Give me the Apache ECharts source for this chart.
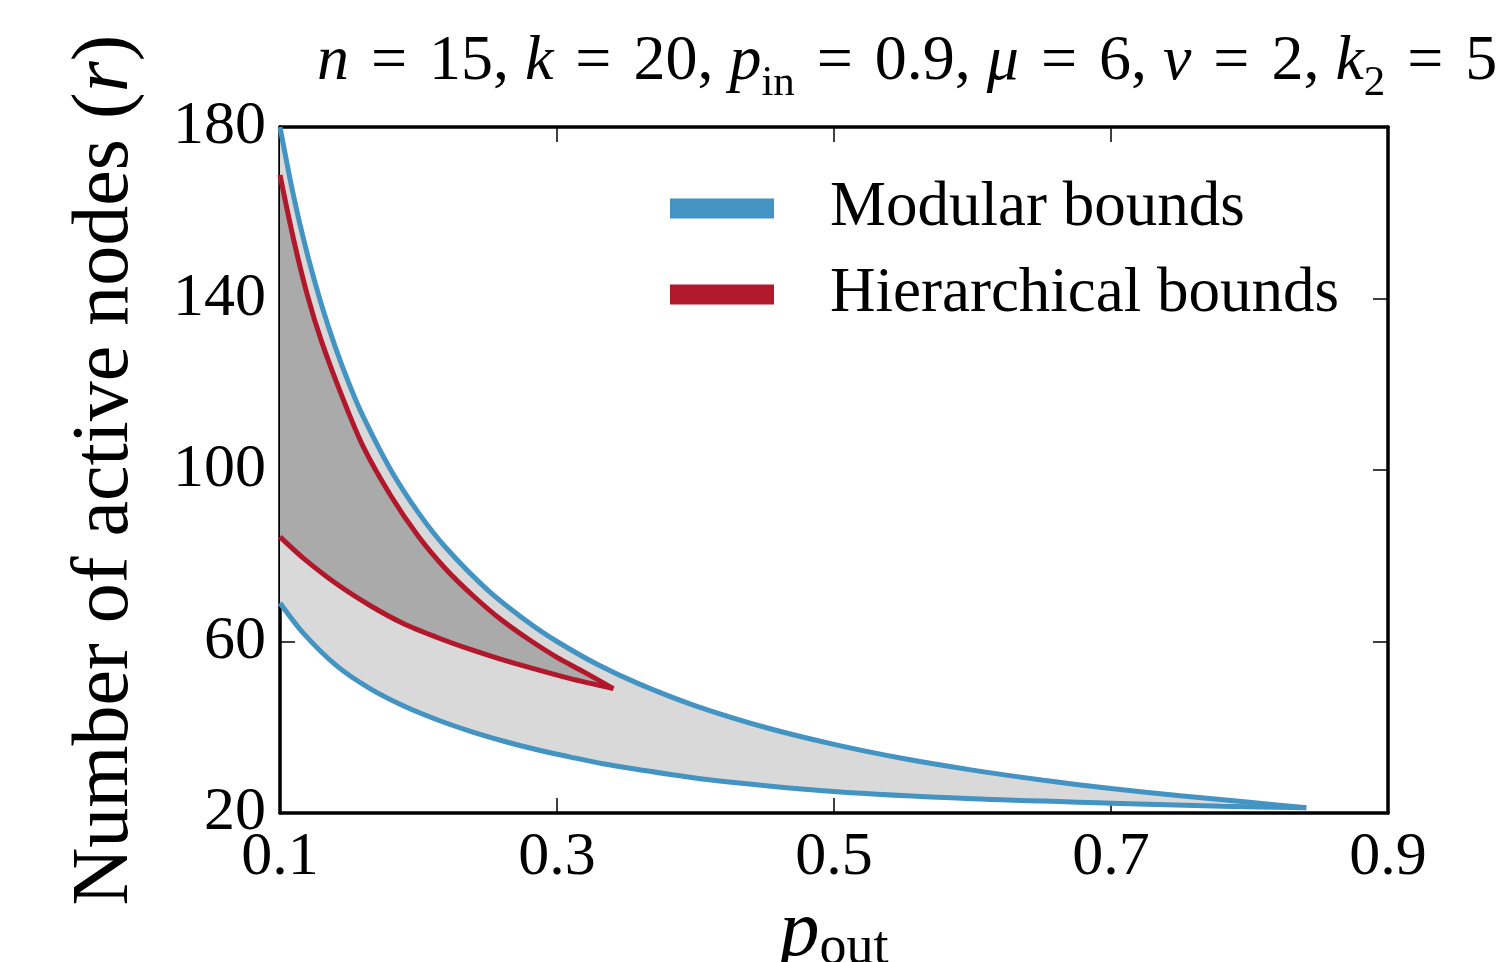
<!DOCTYPE html>
<html>
<head>
<meta charset="utf-8">
<script src="https://cdn.jsdelivr.net/npm/echarts@6/dist/echarts.min.js"></script>
<style>
  html, body { margin: 0; padding: 0; background: #fff; }
  #chart { width: 1505px; height: 962px; }
</style>
</head>
<body>
<div id="chart"></div>
<script>
// 读图估计的数据
var xTicks = [0.1, 0.3, 0.5, 0.7, 0.9];
var yTicks = [20, 60, 100, 140, 180];

// Modular bounds 上界 / 下界
var modUpperP = [0.1, 0.11, 0.12, 0.13, 0.14, 0.15, 0.16, 0.18, 0.2, 0.22, 0.25, 0.28, 0.3, 0.33, 0.36, 0.4, 0.45, 0.5, 0.55, 0.6, 0.65, 0.7, 0.75, 0.8, 0.841];
var modUpperR = [180, 163.6, 150, 138.5, 128.6, 120, 112.5, 100, 90, 81.8, 72, 64.3, 60, 54.5, 50, 45, 40, 36, 32.7, 30, 27.7, 25.7, 24, 22.5, 21.2];
var modLowerP = [0.1, 0.117, 0.141, 0.165, 0.189, 0.213, 0.237, 0.261, 0.285, 0.309, 0.333, 0.382, 0.414, 0.5, 0.6, 0.7, 0.78, 0.841];
var modLowerR = [69, 61.9, 54.3, 49.0, 45.0, 41.8, 39.1, 36.8, 34.8, 33.1, 31.5, 29.0, 27.6, 25.0, 23.3, 22.3, 21.6, 21.2];

// Hierarchical bounds 上界 / 下界
var hierUpperP = [0.1, 0.11, 0.12, 0.13, 0.145, 0.16, 0.18, 0.2, 0.22, 0.24, 0.26, 0.28, 0.3, 0.32, 0.3407];
var hierUpperR = [168.8, 153.5, 140.5, 130, 117, 105.5, 94, 84.5, 76.8, 70.5, 65, 60.4, 56.3, 52.8, 49];
var hierLowerP = [0.1, 0.117, 0.141, 0.165, 0.189, 0.213, 0.237, 0.261, 0.285, 0.309, 0.3407];
var hierLowerR = [84.4, 79.4, 73.4, 68.4, 64.2, 61.0, 58.2, 55.7, 53.5, 51.4, 49];

var FONT = 'Liberation Serif';
var BLUE = '#4393c3';
var RED = '#b2182b';

function zip(xs, ys) {
  return xs.map(function (x, i) { return [x, ys[i]]; });
}

// 两条曲线之间的填充区域
function bandSeries(upP, upR, loP, loR, color, z) {
  var pts = zip(upP, upR).concat(zip(loP, loR).reverse());
  return {
    type: 'custom',
    silent: true,
    clip: true,
    z: z,
    data: [[upP[0], upR[0]]],
    renderItem: function (params, api) {
      return {
        type: 'polygon',
        shape: { points: pts.map(function (p) { return api.coord(p); }) },
        style: { fill: color, stroke: null }
      };
    }
  };
}

function lineSeries(name, xs, ys, color) {
  return {
    name: name,
    type: 'line',
    data: zip(xs, ys),
    smooth: 0.3,
    showSymbol: false,
    symbol: 'none',
    z: 5,
    lineStyle: { color: color, width: 5 },
    itemStyle: { color: color },
    emphasis: { disabled: true }
  };
}

var tickStyle = { color: '#000', width: 1.5 };
var lineAxis = { show: true, lineStyle: { color: '#000', width: 3.5 } };

var eq = function (v) { return '{e|=}{r|' + v + '}'; };
var titleText = '{i|n}' + eq('15, ') + '{i|k}' + eq('20, ') + '{i|p}{s|in}' + eq('0.9, ') +
  '{i|μ}' + eq('6, ') + '{i|ν}' + eq('2, ') + '{i|k}{s|2}' + eq('5');

var chart = echarts.init(document.getElementById('chart'));
chart.setOption({
  animation: false,
  backgroundColor: '#fff',
  title: {
    left: 312,
    top: 25,
    text: titleText,
    textStyle: {
      fontWeight: 'normal',
      rich: {
        i: { fontFamily: FONT, fontStyle: 'italic', fontWeight: 'normal', fontSize: 64, lineHeight: 64, verticalAlign: 'top', color: '#000' },
        r: { fontFamily: FONT, fontWeight: 'normal', fontSize: 64, lineHeight: 64, verticalAlign: 'top', color: '#000' },
        e: { fontFamily: FONT, fontWeight: 'normal', fontSize: 64, lineHeight: 64, verticalAlign: 'top', color: '#000', width: 80, align: 'center' },
        s: { fontFamily: FONT, fontWeight: 'normal', fontSize: 43, lineHeight: 40, verticalAlign: 'top', padding: [32, 0, 0, 0], color: '#000' }
      }
    }
  },
  legend: {
    orient: 'vertical',
    left: 665,
    top: 172,
    icon: 'rect',
    itemWidth: 104,
    itemHeight: 20,
    itemGap: 23,
    selectedMode: false,
    data: ['Modular bounds', 'Hierarchical bounds'],
    textStyle: {
      fontFamily: FONT,
      fontSize: 63,
      lineHeight: 60,
      color: '#000',
      padding: [0, 0, 0, 51]
    }
  },
  grid: { left: 280, right: 117, top: 127, bottom: 149, containLabel: false, outerBoundsMode: 'none' },
  xAxis: [{
    type: 'value',
    min: 0.1,
    max: 0.9,
    position: 'bottom',
    axisLine: lineAxis,
    splitLine: { show: false },
    axisTick: { inside: true, length: 15, lineStyle: tickStyle, customValues: xTicks },
    axisLabel: {
      customValues: xTicks,
      fontFamily: FONT, fontSize: 62, color: '#000', margin: 14,
      formatter: function (v) { return v.toFixed(1); }
    },
    name: '{p|p}{s|out}',
    nameLocation: 'middle',
    nameGap: 58,
    nameTextStyle: {
      rich: {
        p: { fontFamily: FONT, fontStyle: 'italic', fontSize: 80, lineHeight: 80, verticalAlign: 'top', color: '#000' },
        s: { fontFamily: FONT, fontSize: 54, lineHeight: 52, verticalAlign: 'top', padding: [28, 0, 0, 0], color: '#000' }
      }
    }
  }, {
    type: 'value',
    min: 0.1,
    max: 0.9,
    position: 'top',
    axisLine: lineAxis,
    splitLine: { show: false },
    axisTick: { inside: true, length: 15, lineStyle: tickStyle, customValues: xTicks },
    axisLabel: { show: false }
  }],
  yAxis: [{
    type: 'value',
    min: 20,
    max: 180,
    position: 'left',
    axisLine: lineAxis,
    splitLine: { show: false },
    axisTick: { inside: true, length: 15, lineStyle: tickStyle, customValues: yTicks },
    axisLabel: { customValues: yTicks, fontFamily: FONT, fontSize: 62, color: '#000', margin: 14 },
    name: '{t|Number of active nodes (}{i|r}{t|)}',
    nameLocation: 'middle',
    nameRotate: 90,
    nameGap: 134,
    nameTextStyle: {
      rich: {
        t: { fontFamily: FONT, fontSize: 80, color: '#000' },
        i: { fontFamily: FONT, fontStyle: 'italic', fontSize: 80, color: '#000' }
      }
    }
  }, {
    type: 'value',
    min: 20,
    max: 180,
    position: 'right',
    axisLine: lineAxis,
    splitLine: { show: false },
    axisTick: { inside: true, length: 15, lineStyle: tickStyle, customValues: yTicks },
    axisLabel: { show: false }
  }],
  series: [
    bandSeries(modUpperP, modUpperR, modLowerP, modLowerR, '#d9d9d9', 1),
    bandSeries(hierUpperP, hierUpperR, hierLowerP, hierLowerR, '#aaaaaa', 2),
    lineSeries('Modular bounds', modUpperP, modUpperR, BLUE),
    lineSeries('Modular bounds', modLowerP, modLowerR, BLUE),
    lineSeries('Hierarchical bounds', hierUpperP, hierUpperR, RED),
    lineSeries('Hierarchical bounds', hierLowerP, hierLowerR, RED)
  ]
});
</script>
</body>
</html>
